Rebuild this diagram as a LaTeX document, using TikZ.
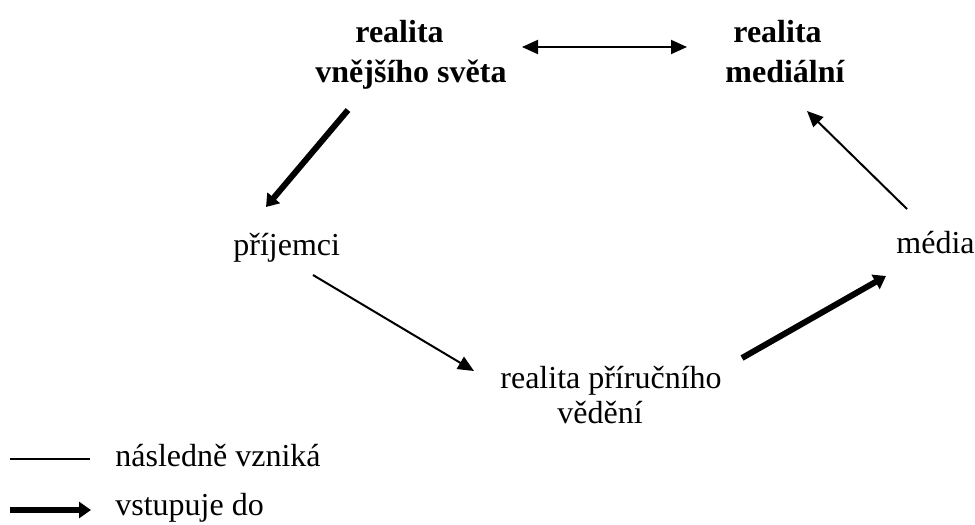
\documentclass[tikz,border=0pt]{standalone}
\usepackage{fontspec}
\setmainfont{Liberation Serif}
\usetikzlibrary{arrows.meta}
\begin{document}
\begin{tikzpicture}[x=0.5pt,y=-0.5pt,
  lbl/.style={font=\fontsize{16}{20}\selectfont, inner sep=0pt, anchor=base west},
  blbl/.style={lbl, font=\fontsize{16}{20}\selectfont\bfseries},
  thinarr/.style={line width=1pt, -{Triangle[length=8pt,width=7pt]}},
  thickarr/.style={line width=3pt, -{Triangle[length=6pt,width=8pt]}},
  dblarr/.style={line width=1pt, {Triangle[length=8pt,width=7pt]}-{Triangle[length=8pt,width=7pt]}}]
\useasboundingbox (0,0) rectangle (975,525);
\node[blbl] (vs1) at (355,42) {realita};
\node[blbl] (vs2) at (315,82) {vnějšího světa};
\node[blbl] (rm1) at (733,42) {realita};
\node[blbl] (rm2) at (725,82) {mediální};
\node[lbl] (pr) at (233,255) {příjemci};
\node[lbl] (me) at (896,253) {média};
\node[lbl] (rp1) at (500,388) {realita příručního};
\node[lbl] (rp2) at (557,423) {vědění};
\node[lbl] (l1) at (115,466) {následně vzniká};
\node[lbl] (l2) at (115,515) {vstupuje do};
\coordinate (d1) at (522,47);
\coordinate (d2) at (687,47);
\coordinate (a1) at (348,110);
\coordinate (a2) at (266,207);
\coordinate (b1) at (313,275);
\coordinate (b2) at (474,371);
\coordinate (c1) at (742,358);
\coordinate (c2) at (886,276);
\coordinate (e1) at (907,209);
\coordinate (e2) at (807,111);
\coordinate (la1) at (10,459);
\coordinate (la2) at (90,459);
\coordinate (lb1) at (10,510);
\coordinate (lb2) at (91,510);
\draw[dblarr] (d1) -- (d2);
\draw[thickarr] (a1) -- (a2);
\draw[thinarr] (b1) -- (b2);
\draw[thickarr] (c1) -- (c2);
\draw[thinarr] (e1) -- (e2);
\draw[line width=1pt] (la1) -- (la2);
\draw[thickarr] (lb1) -- (lb2);
\end{tikzpicture}
\end{document}
